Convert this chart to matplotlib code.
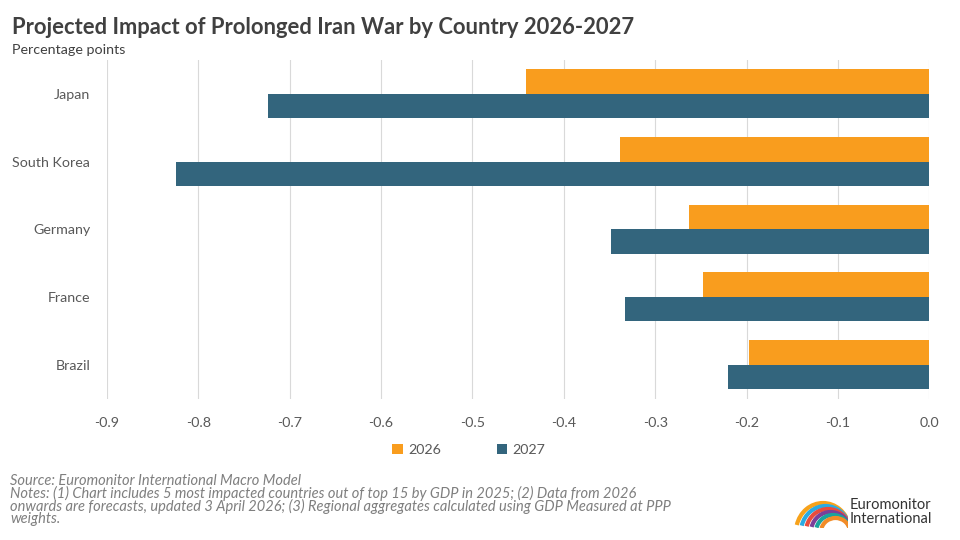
import numpy as np
import matplotlib.pyplot as plt
from matplotlib.patches import Arc

plt.rcParams['font.family'] = ['Lato', 'DejaVu Sans']

countries = ['Japan', 'South Korea', 'Germany', 'France', 'Brazil']
vals2026 = [-0.441, -0.339, -0.263, -0.248, -0.197]
vals2027 = [-0.724, -0.824, -0.348, -0.333, -0.220]
xticks = [-0.9, -0.8, -0.7, -0.6, -0.5, -0.4, -0.3, -0.2, -0.1, 0.0]

ORANGE = '#F99D1E'
BLUE = '#33657D'
GRID = '#D9D9D9'
TXT = '#595959'

fig = plt.figure(figsize=(9.6, 5.4), dpi=100)
ax = fig.add_axes([107/960, 1 - 398.5/540, (929.3 - 107)/960, 338.5/540])

y = np.arange(len(countries))
h = 0.362
ax.barh(y - h/2, vals2026, height=h, color=ORANGE, label='2026', zorder=3)
ax.barh(y + h/2, vals2027, height=h, color=BLUE, label='2027', zorder=3)

ax.set_xlim(-0.9, 0.0)
ax.set_ylim(len(countries) - 0.5, -0.5)
ax.set_xticks(xticks)
ax.set_xticklabels(['%.1f' % t for t in xticks])
ax.set_yticks(y)
ax.set_yticklabels(countries)
ax.grid(axis='x', color=GRID, linewidth=0.8, zorder=0)
for s in ax.spines.values():
    s.set_visible(False)
ax.tick_params(axis='both', length=0, labelsize=10.3, colors=TXT)
ax.tick_params(axis='x', pad=13)
ax.tick_params(axis='y', pad=12)

leg = fig.legend(loc='center', bbox_to_anchor=(469/960, 1 - 450/540), ncol=2,
                 frameon=False, fontsize=10.3, handlelength=0.7, handleheight=0.7,
                 columnspacing=3.9, handletextpad=0.4)
for t in leg.get_texts():
    t.set_color(TXT)

fig.text(12/960, 1 - 27/540, 'Projected Impact of Prolonged Iran War by Country 2026-2027',
         fontsize=15.8, fontweight='bold', color='#404040', va='center')
fig.text(12/960, 1 - 50/540, 'Percentage points', fontsize=10.3, color='#404040', va='center')

notes = ('Source: Euromonitor International Macro Model\n'
         'Notes: (1) Chart includes 5 most impacted countries out of top 15 by GDP in 2025; (2) Data from 2026\n'
         'onwards are forecasts, updated 3 April 2026; (3) Regional aggregates calculated using GDP Measured at PPP\n'
         'weights.')
fig.text(10/960, 1 - 474/540, notes, fontsize=10.5, style='italic', color='#7F7F7F',
         va='top', linespacing=0.82)

# logo
lax = fig.add_axes([793/960, 1 - 528/540, 55/960, 30/540])
lax.set_xlim(0, 55)
lax.set_ylim(0, 30)
lax.axis('off')
arc_cols = ['#F7A21B', '#2BAAE2', '#E84C3D', '#7B3F98', '#1BA39C', '#F28C28']
for i, c in enumerate(arc_cols):
    lax.add_patch(Arc((30 + i*2.5, -4), 54 - i*5, 58 - i*6, theta1=15, theta2=165,
                      color=c, linewidth=3.0))
fig.text(850/960, 1 - 512/540, 'Euromonitor\nInternational', fontsize=10.5,
         color='#333333', va='center', linespacing=0.95)

fig.savefig('out.png', dpi=100)
